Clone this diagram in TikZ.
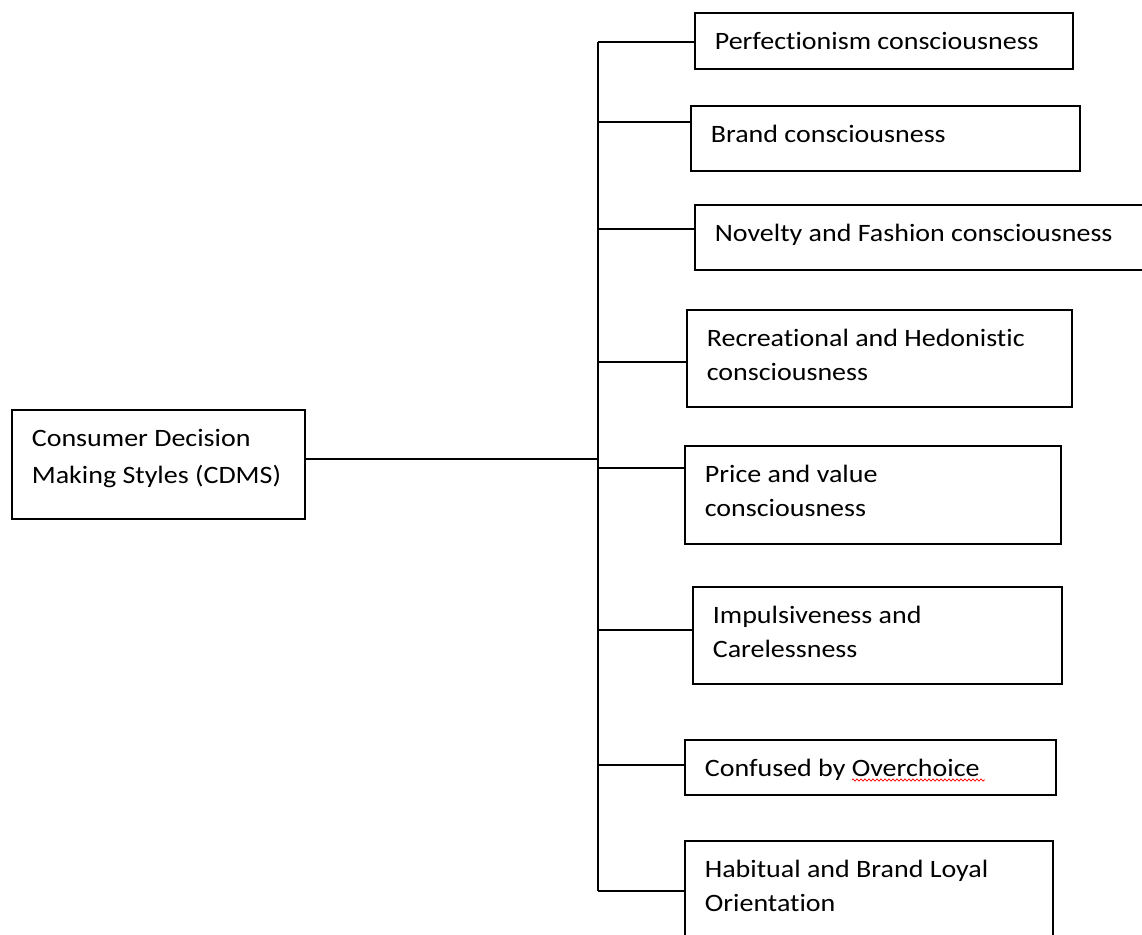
\documentclass[tikz,border=0pt]{standalone}
\usepackage{fontspec}
\setmainfont{Carlito}[FakeStretch=1.12, Ligatures=NoCommon]
\usetikzlibrary{decorations.pathmorphing}
\newcommand{\boxtext}[3]{\parbox[c][#2][t]{#1}{\rule{0pt}{37pt}#3}}
\tikzset{
  stylebox/.style={draw, line width=1.7pt, anchor=north west, inner xsep=20pt, inner ysep=0pt,
    align=left, font=\fontsize{25}{34}\selectfont},
  wire/.style={line width=1.7pt},
  spellwave/.style={red, line width=0.7pt, decorate, decoration={zigzag, segment length=4pt, amplitude=1.2pt}}
}

\begin{document}
\begin{tikzpicture}[x=1pt,y=-1pt]
\useasboundingbox (0,0) rectangle (1142,934);
\node[stylebox, font=\fontsize{25}{37}\selectfont] (cdms) at (11,409) {\boxtext{253pt}{109pt}{Consumer Decision\\Making Styles (CDMS)}};
\node[stylebox] (perf) at (694,12) {\boxtext{338pt}{56pt}{Perfectionism consciousness}};
\node[stylebox] (brand) at (690,105) {\boxtext{349pt}{65pt}{Brand consciousness}};
\node[stylebox] (novelty) at (694,204) {\boxtext{426pt}{65pt}{Novelty and Fashion consciousness}};
\node[stylebox] (recr) at (686,309) {\boxtext{345pt}{97pt}{Recreational and Hedonistic\\consciousness}};
\node[stylebox] (price) at (684,445) {\boxtext{336pt}{98pt}{Price and value\\consciousness}};
\node[stylebox] (impulse) at (692,586) {\boxtext{329pt}{97pt}{Impulsiveness and\\Carelessness}};
\node[stylebox] (confused) at (684,739) {\boxtext{331pt}{55pt}{Confused by Overchoice}};
\node[stylebox] (habit) at (684,840) {\boxtext{328pt}{110pt}{Habitual and Brand Loyal\\Orientation}};
\coordinate (hub) at (598,459);
\coordinate (b1) at (598,42);
\coordinate (b2) at (598,122);
\coordinate (b3) at (598,229);
\coordinate (b4) at (598,362);
\coordinate (b5) at (598,468);
\coordinate (b6) at (598,630);
\coordinate (b7) at (598,765);
\coordinate (b8) at (598,891);
\draw[wire] (hub -| cdms.east) -- (hub);
\draw[wire] (b1) -- (b8);
\draw[wire] (b1) -- (b1 -| perf.west);
\draw[wire] (b2) -- (b2 -| brand.west);
\draw[wire] (b3) -- (b3 -| novelty.west);
\draw[wire] (b4) -- (b4 -| recr.west);
\draw[wire] (b5) -- (b5 -| price.west);
\draw[wire] (b6) -- (b6 -| impulse.west);
\draw[wire] (b7) -- (b7 -| confused.west);
\draw[wire] (b8) -- (b8 -| habit.west);
\draw[spellwave] ([shift={(168,41)}]confused.north west) -- ([shift={(301,41)}]confused.north west);
\end{tikzpicture}
\end{document}
